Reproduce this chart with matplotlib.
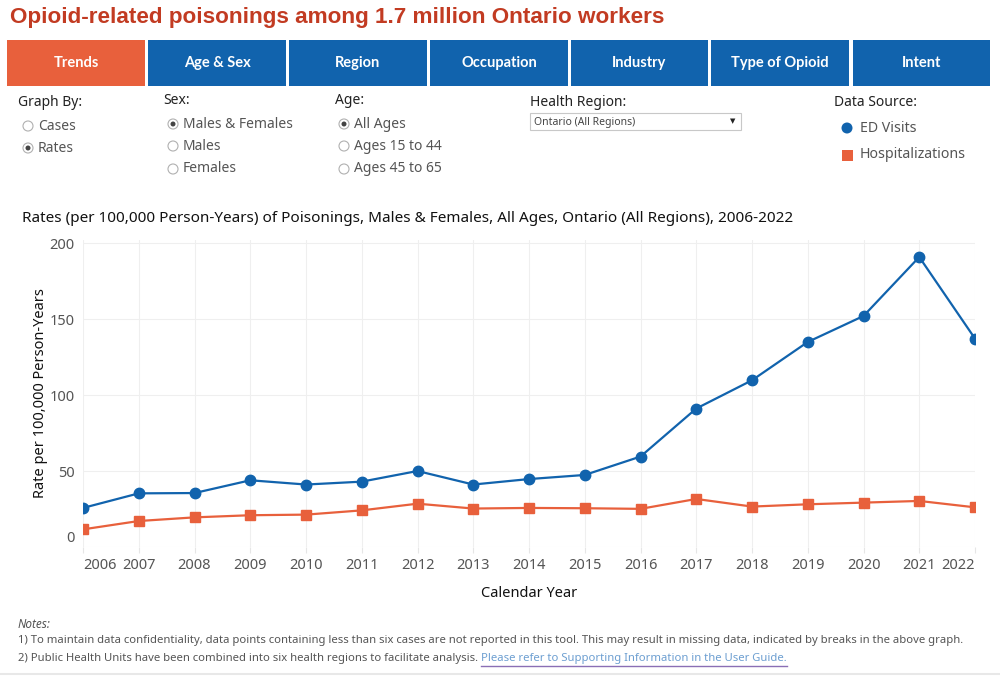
import matplotlib
matplotlib.use("Agg")
import matplotlib.pyplot as plt
import matplotlib.transforms as mtrans
from matplotlib.patches import Rectangle, Circle

# data
years = list(range(2006, 2023))
ed_visits = [25.7, 35.3, 35.5, 43.9, 41.1, 43.0, 50.0, 41.1, 44.7, 47.4,
             59.5, 91.1, 109.7, 134.9, 152.0, 190.8, 137.1]
hospitalizations = [11.6, 17.1, 19.5, 20.9, 21.3, 24.1, 28.5, 25.3, 25.7, 25.5,
                    25.1, 31.6, 26.6, 28.1, 29.2, 30.3, 26.1]
y_ticks = [0, 50, 100, 150, 200]
tabs = ["Trends", "Age & Sex", "Region", "Occupation", "Industry", "Type of Opioid", "Intent"]

BLUE = "#1163ad"
ORANGE = "#e8603c"
GREY = "#555555"
FONT = ["Noto Sans", "DejaVu Sans"]
plt.rcParams["font.family"] = FONT

fig = plt.figure(figsize=(10, 6.77), dpi=100)
H = 677


# everything outside the axes is placed in pixel coords (y from the top)
def P(x, y):
    return x / 100, (H - y) / 100


def txt(x, y, s, **kw):
    kw.setdefault("va", "center")
    kw.setdefault("ha", "left")
    return fig.text(*P(x, y), s, transform=fig.dpi_scale_trans, **kw)


def radio(x, y, on):
    fig.add_artist(Circle(P(x, y), 0.05, transform=fig.dpi_scale_trans,
                          fc="white", ec="#b0b0b0", lw=0.8))
    if on:
        fig.add_artist(Circle(P(x, y), 0.025, transform=fig.dpi_scale_trans,
                              fc="#444444", ec="none"))


# title
txt(10, 18, "Opioid-related poisonings among 1.7 million Ontario workers",
    family="Liberation Sans", weight="bold", fontsize=16.2, color="#c23b22")

# tab bar
tab_edges = [(7, 145), (148, 286), (289, 427), (430, 568), (571, 708), (711, 849), (853, 990)]
for i, (name, (x0, x1)) in enumerate(zip(tabs, tab_edges)):
    col = ORANGE if i == 0 else BLUE
    fig.add_artist(Rectangle(P(x0, 86), (x1 - x0) / 100, 0.46,
                             transform=fig.dpi_scale_trans, fc=col, ec="none"))
    txt((x0 + x1) / 2, 63, name, ha="center", color="white", weight="bold",
        fontsize=10.5, family=["Lato", "DejaVu Sans"])

# filter controls
txt(18, 103, "Graph By:", fontsize=10, color="#222222")
for yy, lab, on in [(126, "Cases", False), (148, "Rates", True)]:
    radio(28, yy, on)
    txt(38, yy, lab, fontsize=10, color=GREY)

txt(163, 101, "Sex:", fontsize=10, color="#222222")
for yy, lab, on in [(124, "Males & Females", True), (146, "Males", False), (169, "Females", False)]:
    radio(173, yy, on)
    txt(183, yy, lab, fontsize=10, color=GREY)

txt(335, 101, "Age:", fontsize=10, color="#222222")
for yy, lab, on in [(124, "All Ages", True), (146, "Ages 15 to 44", False), (169, "Ages 45 to 65", False)]:
    radio(344, yy, on)
    txt(354, yy, lab, fontsize=10, color=GREY)

txt(530, 102, "Health Region:", fontsize=10, color="#222222")
fig.add_artist(Rectangle(P(530, 130), 2.11, 0.17, transform=fig.dpi_scale_trans,
                         fc="white", ec="#c8c8c8", lw=0.8))
txt(534, 122, "Ontario (All Regions)", fontsize=7.5, color="#444444")
txt(733, 122, "\u25bc", ha="center", fontsize=5, color="#222222")

txt(834, 103, "Data Source:", fontsize=10, color="#222222")
fig.add_artist(Circle(P(847, 128), 0.055, transform=fig.dpi_scale_trans, fc=BLUE, ec="none"))
txt(860, 128, "ED Visits", fontsize=10.2, color=GREY)
fig.add_artist(Rectangle(P(842, 161), 0.11, 0.11, transform=fig.dpi_scale_trans, fc=ORANGE, ec="none"))
txt(860, 155, "Hospitalizations", fontsize=10.2, color=GREY)

txt(22, 219, "Rates (per 100,000 Person-Years) of Poisonings, Males & Females, All Ages, "
    "Ontario (All Regions), 2006-2022", fontsize=11, color="#111111")

# main chart
ax = fig.add_axes([0.083, 1 - 547 / H, 0.892, (547 - 240) / H])
ax.plot(years, ed_visits, color=BLUE, lw=1.6, marker="o", ms=7.5, zorder=3)
ax.plot(years, hospitalizations, color=ORANGE, lw=1.6, marker="s", ms=6.5, zorder=3)
ax.set_xlim(2006, 2022)
ax.set_ylim(0, 202)
ax.set_xticks(years)
ax.set_yticks(y_ticks)
ax.grid(True, color="#efefef", lw=0.8)
ax.set_axisbelow(True)
for s in ax.spines.values():
    s.set_visible(False)
ax.tick_params(axis="y", length=0, labelsize=10.5, labelcolor=GREY, pad=6)
ax.tick_params(axis="x", length=4, color="#e6e6e6", labelsize=10.5, labelcolor=GREY, pad=4)

xl = ax.get_xticklabels()
xl[0].set_ha("left")
xl[-1].set_ha("right")
yl = ax.get_yticklabels()
yl[0].set_transform(yl[0].get_transform() + mtrans.ScaledTranslation(0, 0.1, fig.dpi_scale_trans))

ax.set_ylabel("Rate per 100,000 Person-Years", fontsize=10.5, color="#111111", labelpad=1)
ax.set_xlabel("Calendar Year", fontsize=10.5, color="#111111", labelpad=9)

# notes (the original uses a narrow font, so shrink to the same width)
txt(18, 624, "Notes:", style="italic", fontsize=8.5, color=GREY)
t1 = txt(18, 641, "1) To maintain data confidentiality, data points containing less than six cases are not "
         "reported in this tool. This may result in missing data, indicated by breaks in the above graph.",
         fontsize=9, color=GREY)
fig.canvas.draw()
w = t1.get_window_extent().width
note_fs = 9 * 940 / w
t1.set_fontsize(note_fs)
t2 = txt(18, 659, "2) Public Health Units have been combined into six health regions to facilitate analysis. ",
         fontsize=note_fs, color=GREY)
fig.canvas.draw()
bb = t2.get_window_extent()
link = fig.text(bb.x1 / 1000, (H - 659) / H, "Please refer to Supporting Information in the User Guide.",
                fontsize=note_fs, color="#6d9fd1", va="center", ha="left")
lb = link.get_window_extent()
fig.add_artist(plt.Line2D([lb.x0 / 1000, lb.x1 / 1000], [(H - 666) / H] * 2, color="#8a6fb5", lw=1.0))
fig.add_artist(plt.Line2D([0, 1], [(H - 674) / H] * 2, color="#e8e8e8", lw=1.5))

fig.savefig("out.png", dpi=100)
